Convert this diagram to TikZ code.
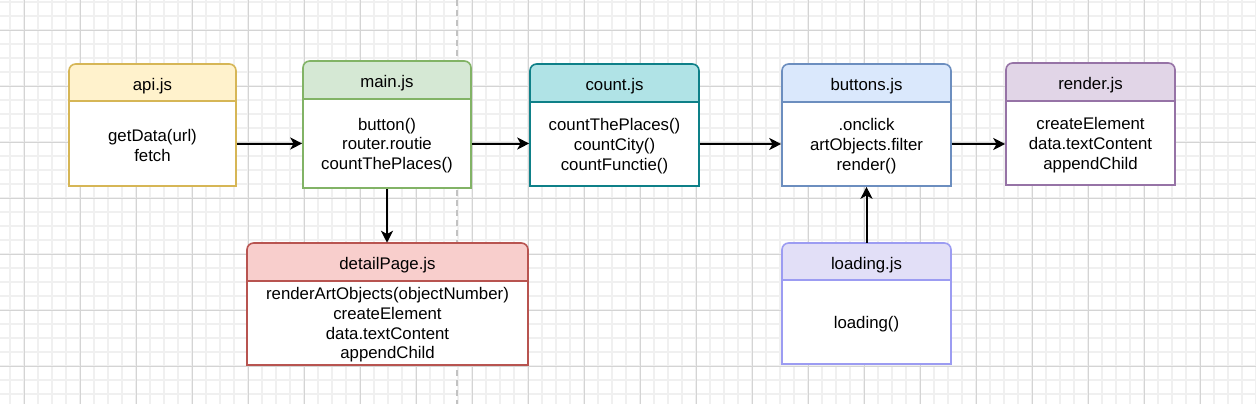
\documentclass[tikz,border=0pt]{standalone}
\usepackage{fontspec}
\setmainfont{Liberation Sans}
\usetikzlibrary{arrows.meta}
\definecolor{apif}{HTML}{FFF2CC}\definecolor{apis}{HTML}{D6B656}
\definecolor{mainf}{HTML}{D5E8D4}\definecolor{mains}{HTML}{82B366}
\definecolor{countf}{HTML}{B0E3E6}\definecolor{counts}{HTML}{0E8088}
\definecolor{btnf}{HTML}{DAE8FC}\definecolor{btns}{HTML}{6C8EBF}
\definecolor{rendf}{HTML}{E1D5E7}\definecolor{rends}{HTML}{9673A6}
\definecolor{detf}{HTML}{F8CECC}\definecolor{dets}{HTML}{B85450}
\definecolor{loadf}{HTML}{E2DFF7}\definecolor{loads}{HTML}{9C9CF2}
\definecolor{gridminor}{HTML}{F0F0F0}\definecolor{gridmajor}{HTML}{D4D4D4}
\definecolor{sepline}{HTML}{C2C2C2}
\tikzset{
  txt/.style={font=\fontsize{12.6}{14.8}\selectfont, text=black},
  hdrnode/.style={txt, inner sep=0pt, draw=none},
  bodynode/.style={txt, align=center, inner sep=0pt, fill=white, line width=1.2pt},
  boxline/.style={line width=1.2pt},
  conn/.style={line width=1.5pt, draw=black, -{Stealth[length=9pt,width=9pt,inset=2.5pt]}},
}
\newcommand\modbox[9]{%
  \path[boxline, fill=#7f, draw=#7s] (#2,#5) [rounded corners=5] -- (#2,#4) -- (#3,#4) [sharp corners] -- (#3,#5) -- cycle;
  \node[hdrnode, minimum width={(#3-#2)*0.75pt}, minimum height={(#5-#4)*0.75pt}] (#1h) at ({(#2+#3)/2},{(#4+#5)/2}) {};
  \node[hdrnode] (#1t) at ([yshift=-2.6pt]#1h.center) {#8};
  \node[bodynode, draw=#7s, minimum width={(#3-#2)*0.75pt}, minimum height={(#6-#5)*0.75pt}] (#1b) at ({(#2+#3)/2},{(#5+#6)/2}) {};
  \node[txt, align=center, inner sep=0pt] (#1c) at ([yshift=-1.5pt]#1b.center) {#9};
}
\begin{document}
\begin{tikzpicture}[x=0.75pt,y=-0.75pt]
\useasboundingbox (0,0) rectangle (1256,404);
\fill[white] (0,0) rectangle (1256,404);
% grid
\foreach \gx in {10,24,...,1256} \draw[gridminor, line width=1.1pt] (\gx,0) -- (\gx,404);
\foreach \gy in {2,16,...,404} \draw[gridminor, line width=1.1pt] (0,\gy) -- (1256,\gy);
\foreach \gx in {24.3,80.3,...,1256} \draw[gridmajor, line width=0.8pt] (\gx,0) -- (\gx,404);
\foreach \gy in {30.3,86.3,...,404} \draw[gridmajor, line width=0.8pt] (0,\gy) -- (1256,\gy);
% separator
\draw[sepline, line width=1.5pt, dash pattern=on 4.5pt off 3pt] (457,0) -- (457,404);
% boxes
\modbox{api}{69}{236}{64}{101}{186}{api}{api.js}{getData(url)\\fetch}
\modbox{main}{303}{471}{61}{99}{188}{main}{main.js}{button()\\router.routie\\countThePlaces()}
\modbox{count}{530}{699}{64}{102}{186}{count}{count.js}{countThePlaces()\\countCity()\\countFunctie()}
\modbox{btn}{782}{951}{64}{102}{186}{btn}{buttons.js}{.onclick\\artObjects.filter\\render()}
\modbox{rend}{1006}{1175}{63}{101}{185}{rend}{render.js}{createElement\\data.textContent\\appendChild}
\modbox{load}{782}{951}{243}{280}{364}{load}{loading.js}{loading()}
\modbox{det}{247}{528}{243}{281}{365}{det}{detailPage.js}{renderArtObjects(objectNumber)\\createElement\\data.textContent\\appendChild}
% connectors
\draw[conn] (apib.east) -- (mainb.west);
\draw[conn] (mainb.east) -- (countb.west |- mainb.east);
\draw[conn] (countb.east) -- (btnb.west);
\draw[conn] (btnb.east) -- (rendb.west |- btnb.east);
\draw[conn] (mainb.south) -- (deth.north -| mainb.south);
\draw[conn] (loadh.north) -- (btnb.south);
\end{tikzpicture}
\end{document}
